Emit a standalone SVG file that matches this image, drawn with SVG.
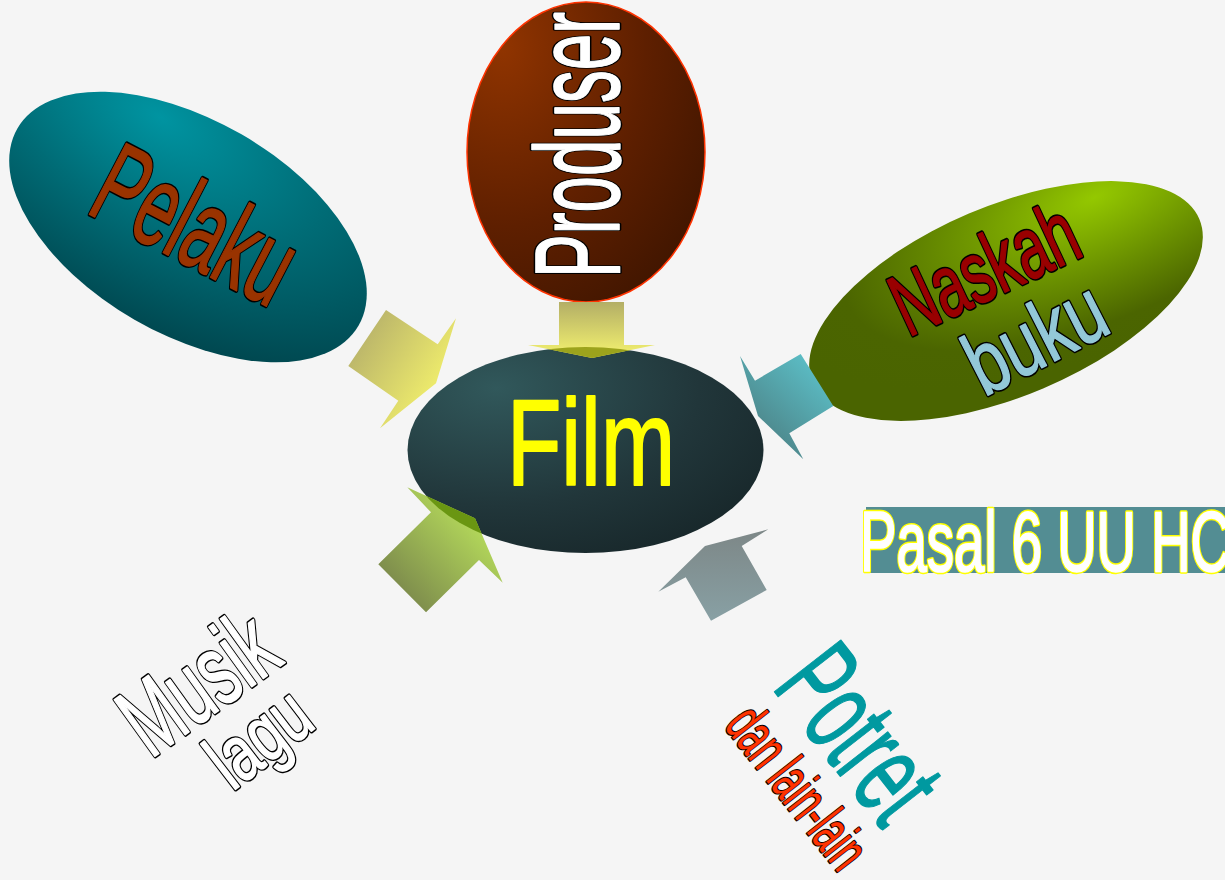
<svg xmlns="http://www.w3.org/2000/svg" width="1225" height="880" viewBox="0 0 1225 880">
<defs>
<style>
.t{font-family:"Liberation Sans",Arial,sans-serif;stroke-linejoin:round;}
.ok{fill:#000;stroke:#000;stroke-width:4.6;stroke-linejoin:round;}
.oks{fill:#000;stroke:#000;stroke-width:2.8;stroke-linejoin:round;}
.oy{fill:#ffff00;stroke:#ffff00;stroke-width:4.6;stroke-linejoin:round;}
.fpelaku{fill:#993300;stroke:#993300;stroke-width:1.6;}
.fwhite{fill:#fff;stroke:#fff;stroke-width:1.6;}
.fnaskah{fill:#990000;stroke:#990000;stroke-width:1.4;}
.fbuku{fill:#93c8d8;stroke:#93c8d8;stroke-width:1.4;}
.fdan{fill:#ff3300;stroke:#ff3300;stroke-width:0.3;}
.film{fill:#ffff00;stroke:#ffff00;stroke-width:2;}
.potret{fill:#0099a0;stroke:#0099a0;stroke-width:1.5;}
</style>
<radialGradient id="gPelaku" cx="0.3" cy="0.12" r="0.95">
<stop offset="0" stop-color="#0094a1"/><stop offset="0.5" stop-color="#006c76"/><stop offset="1" stop-color="#00464e"/>
</radialGradient>
<radialGradient id="gProduser" cx="0.15" cy="0.15" r="1">
<stop offset="0" stop-color="#903400"/><stop offset="0.6" stop-color="#5e1f00"/><stop offset="1" stop-color="#421600"/>
</radialGradient>
<radialGradient id="gNaskah" cx="0.79" cy="0.18" r="0.8">
<stop offset="0" stop-color="#94c800"/><stop offset="0.45" stop-color="#6a9000"/><stop offset="0.8" stop-color="#4b6500"/><stop offset="1" stop-color="#4a6400"/>
</radialGradient>
<radialGradient id="gFilm" cx="0.25" cy="0.2" r="0.95">
<stop offset="0" stop-color="#31585b"/><stop offset="0.6" stop-color="#21363a"/><stop offset="1" stop-color="#172629"/>
</radialGradient>
<linearGradient id="aProduser" gradientUnits="userSpaceOnUse" x1="0" y1="302" x2="0" y2="350">
<stop offset="0" stop-color="#b3ae66"/><stop offset="1" stop-color="#ecea6e"/>
</linearGradient>
<linearGradient id="aPelaku" gradientUnits="userSpaceOnUse" x1="350" y1="330" x2="450" y2="395">
<stop offset="0" stop-color="#b3ad6a"/><stop offset="1" stop-color="#f7f56c"/>
</linearGradient>
<linearGradient id="aNaskah" gradientUnits="userSpaceOnUse" x1="825" y1="375" x2="765" y2="440">
<stop offset="0" stop-color="#5bbcc4"/><stop offset="1" stop-color="#4d8589"/>
</linearGradient>
<linearGradient id="aMusik" gradientUnits="userSpaceOnUse" x1="400" y1="595" x2="475" y2="525">
<stop offset="0" stop-color="#7c8a4c"/><stop offset="1" stop-color="#b2d65a"/>
</linearGradient>
<linearGradient id="aPotret" gradientUnits="userSpaceOnUse" x1="0" y1="530" x2="0" y2="620">
<stop offset="0" stop-color="#7d8787"/><stop offset="1" stop-color="#88a0a4"/>
</linearGradient>
<clipPath id="cFilm"><ellipse cx="585.5" cy="450" rx="178" ry="103"/></clipPath>
</defs>
<rect x="0" y="0" width="1225" height="880" fill="#f5f5f5"/>

<g id="node-pelaku">
<ellipse cx="0" cy="0" rx="197" ry="107" transform="translate(188,227) rotate(30)" fill="url(#gPelaku)"/>
<use href="#tPelaku" class="ok"/>
<g class="fpelaku"><text id="tPelaku" class="t" x="0" y="0" font-size="116" text-anchor="middle" textLength="210" lengthAdjust="spacingAndGlyphs" transform="translate(177.5,260) rotate(27.5)">Pelaku</text></g>
</g>

<g id="node-produser">
<ellipse cx="586" cy="152" rx="119" ry="150" fill="url(#gProduser)" stroke="#ff3300" stroke-width="1.5"/>
<use href="#tProduser" class="ok"/>
<g class="fwhite"><text id="tProduser" class="t" x="0" y="0" font-size="120" text-anchor="middle" textLength="266" lengthAdjust="spacingAndGlyphs" transform="translate(619,145) rotate(-90)">Produser</text></g>
</g>

<g id="node-naskah">
<ellipse cx="0" cy="0" rx="210" ry="95" transform="translate(1006,301) rotate(-23)" fill="url(#gNaskah)"/>
<use href="#tNaskah" class="ok"/>
<g class="fnaskah"><text id="tNaskah" class="t" x="0" y="0" font-size="88" text-anchor="middle" textLength="196" lengthAdjust="spacingAndGlyphs" transform="translate(997,296) rotate(-25)">Naskah</text></g>
<use href="#tBuku" class="ok"/>
<g class="fbuku"><text id="tBuku" class="t" x="0" y="0" font-size="88" text-anchor="middle" textLength="146" lengthAdjust="spacingAndGlyphs" transform="translate(1049,364) rotate(-27)">buku</text></g>
</g>

<g id="node-film">
<ellipse cx="585.5" cy="450" rx="178" ry="103" fill="url(#gFilm)"/>
<text class="t film" x="591" y="485" font-size="122" text-anchor="middle" textLength="168" lengthAdjust="spacingAndGlyphs">Film</text>
</g>

<g id="node-musik">
<use href="#tMusik" class="ok"/>
<use href="#tLagu" class="ok"/>
<g class="fwhite">
<text id="tMusik" class="t" x="0" y="0" font-size="101" text-anchor="middle" textLength="166" lengthAdjust="spacingAndGlyphs" transform="translate(218,711) rotate(-35.7)">Musik</text>
<text id="tLagu" class="t" x="0" y="0" font-size="79" text-anchor="middle" textLength="108" lengthAdjust="spacingAndGlyphs" transform="translate(275,759) rotate(-37.5)">lagu</text>
</g>
</g>

<g id="node-potret">
<text class="t potret" x="0" y="0" font-size="122" text-anchor="middle" textLength="182" lengthAdjust="spacingAndGlyphs" transform="translate(827,759) rotate(52)">Potret</text>
<use href="#tDan" class="oks"/>
<g class="fdan"><text id="tDan" class="t" x="0" y="0" font-size="61" text-anchor="middle" textLength="188" lengthAdjust="spacingAndGlyphs" transform="translate(781,800) rotate(52)">dan lain-lain</text></g>
</g>

<g id="node-pasal">
<rect x="866" y="507" width="360" height="66" fill="#538d93"/>
<use href="#tPasal" class="oy"/>
<g class="fwhite"><text id="tPasal" class="t" x="860" y="571" font-size="85" textLength="370" lengthAdjust="spacingAndGlyphs">Pasal 6 UU HC</text></g>
</g>

<g id="connectors">
<polygon points="559,302 624,302 624,345 655,345 592,358 528,345 559,345" fill="url(#aProduser)"/>
<polygon points="386,310 437.7,344.3 456,318.3 436,383.3 380,428.3 398.3,400.7 348.3,366" fill="url(#aPelaku)"/>
<polygon points="800.7,354 833.3,406 789.3,433.3 803.3,459.3 758,416 740,356 755,380.7" fill="url(#aNaskah)"/>
<polygon points="378.3,564.3 431,512.3 407.3,487.3 475,518.3 502.7,582.7 479,560 426,612.3" fill="url(#aMusik)"/>
<polygon points="711,620.7 685.7,577.3 658.3,591.7 705,546 768.3,529.3 741.7,546 766.7,590" fill="url(#aPotret)"/>
<g clip-path="url(#cFilm)">
<polygon points="559,302 624,302 624,345 655,345 592,358 528,345 559,345" fill="#9ca31c"/>
<polygon points="378.3,564.3 431,512.3 407.3,487.3 475,518.3 502.7,582.7 479,560 426,612.3" fill="#6a9612"/>
</g>
</g>
</svg>
